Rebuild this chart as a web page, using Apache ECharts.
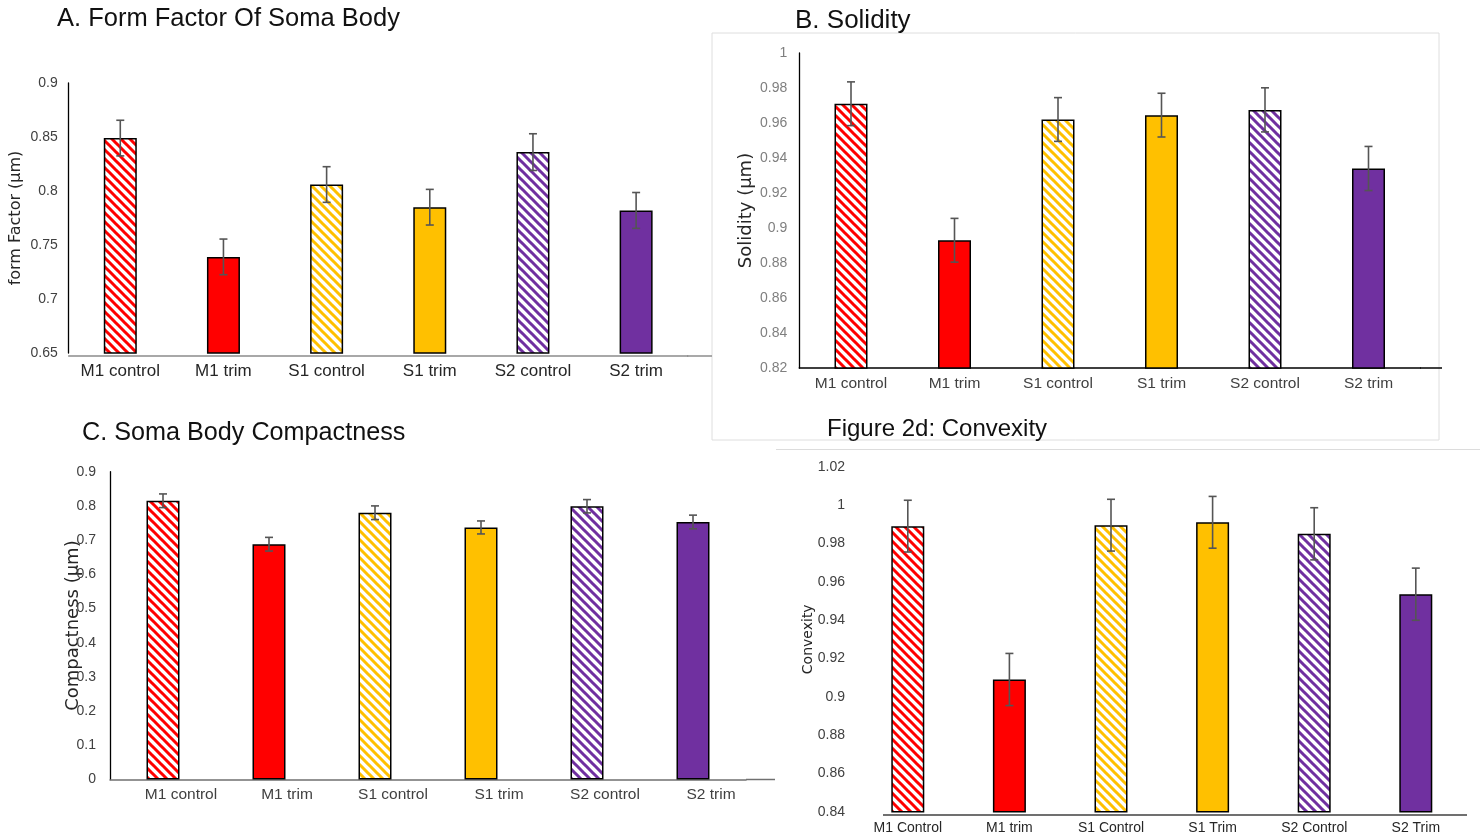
<!DOCTYPE html>
<html>
<head>
<meta charset="utf-8">
<script src="https://cdn.jsdelivr.net/npm/echarts@6/dist/echarts.min.js"></script>
<style>
  html, body { margin: 0; padding: 0; background: #fff; }
  #chart { width: 1484px; height: 838px; }
</style>
</head>
<body>
<div id="chart"></div>
<script>
// ---------- data ----------
const categoriesA = ['M1 control', 'M1 trim', 'S1 control', 'S1 trim', 'S2 control', 'S2 trim'];
const valuesA = [0.849, 0.739, 0.806, 0.785, 0.836, 0.782];
const errorsA = [0.0165, 0.0165, 0.0165, 0.0165, 0.0170, 0.0166];

const categoriesB = ['M1 control', 'M1 trim', 'S1 control', 'S1 trim', 'S2 control', 'S2 trim'];
const valuesB = [0.971, 0.893, 0.962, 0.9645, 0.9675, 0.934];
const errorsB = [0.0125, 0.0125, 0.0125, 0.0125, 0.0126, 0.0126];

const categoriesC = ['M1 control', 'M1 trim', 'S1 control', 'S1 trim', 'S2 control', 'S2 trim'];
const valuesC = [0.815, 0.688, 0.780, 0.737, 0.799, 0.753];
const errorsC = [0.0200, 0.0200, 0.0200, 0.0190, 0.0195, 0.0200];

const categoriesD = ['M1 Control', 'M1 trim', 'S1 Control', 'S1 Trim', 'S2 Control', 'S2 Trim'];
const valuesD = [0.989, 0.909, 0.9895, 0.991, 0.985, 0.9535];
const errorsD = [0.0135, 0.0136, 0.0135, 0.0135, 0.0136, 0.0136];

const titles = ['A. Form Factor Of Soma Body', 'B. Solidity', 'C. Soma Body Compactness', 'Figure 2d: Convexity'];
const axisNames = ['form Factor (\u03bcm)', 'Solidity (\u03bcm)', 'Compactness (\u03bcm)', 'Convexity'];

// ---------- styling ----------
const barColors = ['#FF0000', '#FF0000', '#FFC000', '#FFC000', '#7030A0', '#7030A0'];
const hatched = [true, false, true, false, true, false];
const LSANS = "'Liberation Sans', Arial, sans-serif";
const SANS = "'DejaVu Sans', 'Open Sans', sans-serif";

function stripe(color) {
  const s = 9;
  const c = document.createElement('canvas');
  c.width = s; c.height = s;
  const g = c.getContext('2d');
  g.fillStyle = '#ffffff';
  g.fillRect(0, 0, s, s);
  g.strokeStyle = color;
  g.lineWidth = 3;
  g.beginPath();
  for (let k = -1; k <= 1; k++) {
    g.moveTo(-1, k * s - 1);
    g.lineTo(s + 1, s + k * s + 1);
  }
  g.stroke();
  return { image: c, repeat: 'repeat' };
}

function barData(values) {
  return values.map((v, i) => ({
    value: v,
    itemStyle: {
      color: hatched[i] ? stripe(barColors[i]) : barColors[i],
      borderColor: '#000',
      borderWidth: 1.5
    }
  }));
}

function errData(values, errs) {
  return values.map((v, i) => [i, v - errs[i], v + errs[i]]);
}

function renderErr(params, api) {
  const i = api.value(0);
  const lo = api.coord([i, api.value(1)]);
  const hi = api.coord([i, api.value(2)]);
  const w = 4;
  const st = { stroke: '#555555', lineWidth: 1.6 };
  return {
    type: 'group',
    children: [
      { type: 'line', shape: { x1: hi[0], y1: hi[1], x2: lo[0], y2: lo[1] }, style: st },
      { type: 'line', shape: { x1: hi[0] - w, y1: hi[1], x2: hi[0] + w, y2: hi[1] }, style: st },
      { type: 'line', shape: { x1: lo[0] - w, y1: lo[1], x2: lo[0] + w, y2: lo[1] }, style: st }
    ]
  };
}

const fmt = v => String(+(+v).toFixed(2));

const grids = [
  { left: 68.7, top: 83, width: 619, height: 270 },
  { left: 799.25, top: 53, width: 621, height: 315 },
  { left: 110, top: 471.7, width: 636, height: 307.8 },
  { left: 857, top: 466.7, width: 609.6, height: 345.1 }
];

const cats = [categoriesA, categoriesB, categoriesC, categoriesD];
const vals = [valuesA, valuesB, valuesC, valuesD];
const errs = [errorsA, errorsB, errorsC, errorsD];

const yCfg = [
  { min: 0.65, max: 0.9, interval: 0.05, labelColor: '#404040', margin: 11, line: true, nameGap: 45, nameSize: 16 },
  { min: 0.82, max: 1.0, interval: 0.02, labelColor: '#7f7f7f', margin: 12, line: true, nameGap: 44, nameSize: 18 },
  { min: 0, max: 0.9, interval: 0.1, labelColor: '#404040', margin: 14, line: true, nameGap: 28, nameSize: 18 },
  { min: 0.84, max: 1.02, interval: 0.02, labelColor: '#404040', margin: 12, line: false, nameGap: 42, nameSize: 14 }
];
const xCfg = [
  { lineColor: '#8c8c8c', show: true, offset: 3, margin: 7, size: 17, color: '#262626', pad: [0, 0, 0, 0] },
  { lineColor: '#000000', show: true, offset: 0, margin: 8, size: 15.5, color: '#404040', pad: [0, 0, 0, 0] },
  { lineColor: '#707070', show: true, offset: 0, margin: 7, size: 15.5, color: '#404040', pad: [0, 0, 0, 36] },
  { lineColor: '#404040', show: false, offset: 3, margin: 6, size: 14, color: '#262626', pad: [0, 0, 0, 0] }
];

const xAxis = cats.map((c, k) => ({
  type: 'category',
  gridIndex: k,
  data: c,
  offset: xCfg[k].offset,
  axisLine: { show: xCfg[k].show, lineStyle: { color: xCfg[k].lineColor, width: 1.5 } },
  axisTick: { show: false },
  axisLabel: { margin: xCfg[k].margin, fontFamily: LSANS, fontSize: xCfg[k].size, color: xCfg[k].color, interval: 0, padding: xCfg[k].pad }
}));

const yAxis = yCfg.map((y, k) => ({
  type: 'value',
  gridIndex: k,
  min: y.min, max: y.max, interval: y.interval,
  splitLine: { show: false },
  axisTick: { show: false },
  axisLine: { show: y.line, lineStyle: { color: '#000', width: 1.3 } },
  axisLabel: { margin: y.margin, fontFamily: LSANS, fontSize: 14, color: y.labelColor, formatter: fmt },
  name: axisNames[k],
  nameLocation: 'middle',
  nameGap: y.nameGap,
  nameMoveOverlap: false,
  nameTextStyle: { fontFamily: SANS, fontSize: y.nameSize, color: '#262626' }
}));

const series = [];
for (let k = 0; k < 4; k++) {
  series.push({
    type: 'bar', xAxisIndex: k, yAxisIndex: k, barWidth: 33,
    data: barData(vals[k]), animation: false, z: 2
  });
  series.push({
    type: 'custom', xAxisIndex: k, yAxisIndex: k,
    renderItem: renderErr, data: errData(vals[k], errs[k]),
    encode: { x: 0, y: [1, 2] }, animation: false, z: 5
  });
}

const titleCfg = [
  { left: 57, top: 6, size: 25.5 },
  { left: 795, top: 8, size: 26 },
  { left: 82, top: 420, size: 25.2 },
  { left: 827, top: 417, size: 24 }
];

const title = titles.map((t, k) => ({
  text: t, left: titleCfg[k].left, top: titleCfg[k].top, padding: 0,
  textStyle: { fontFamily: LSANS, fontSize: titleCfg[k].size, fontWeight: 'normal', color: '#111', lineHeight: titleCfg[k].size }
}));

const faint = { stroke: '#dcdcdc', lineWidth: 1 };
const graphic = [
  // screenshot panel frames
  { type: 'polyline', shape: { points: [[712, 440], [712, 33], [1439, 33], [1439, 440], [712, 440]] }, style: { stroke: '#dedede', fill: null, lineWidth: 1 }, silent: true },
  { type: 'line', shape: { x1: 776, y1: 449.5, x2: 1480, y2: 449.5 }, style: faint, silent: true },
  // axis line extensions
  { type: 'line', shape: { x1: 687, y1: 356, x2: 712, y2: 356 }, style: { stroke: '#8c8c8c', lineWidth: 1.5 }, silent: true },
  { type: 'line', shape: { x1: 1420, y1: 368, x2: 1442, y2: 368 }, style: { stroke: '#000', lineWidth: 1.5 }, silent: true },
  { type: 'line', shape: { x1: 746, y1: 779.5, x2: 775, y2: 779.5 }, style: { stroke: '#707070', lineWidth: 1.5 }, silent: true },
  { type: 'line', shape: { x1: 883, y1: 815, x2: 1467, y2: 815 }, style: { stroke: '#404040', lineWidth: 1.5 }, silent: true }
];

const chart = echarts.init(document.getElementById('chart'), null, { renderer: 'canvas' });
chart.setOption({
  backgroundColor: '#ffffff',
  animation: false,
  title: title,
  grid: grids,
  xAxis: xAxis,
  yAxis: yAxis,
  series: series,
  graphic: graphic
});
</script>
</body>
</html>
